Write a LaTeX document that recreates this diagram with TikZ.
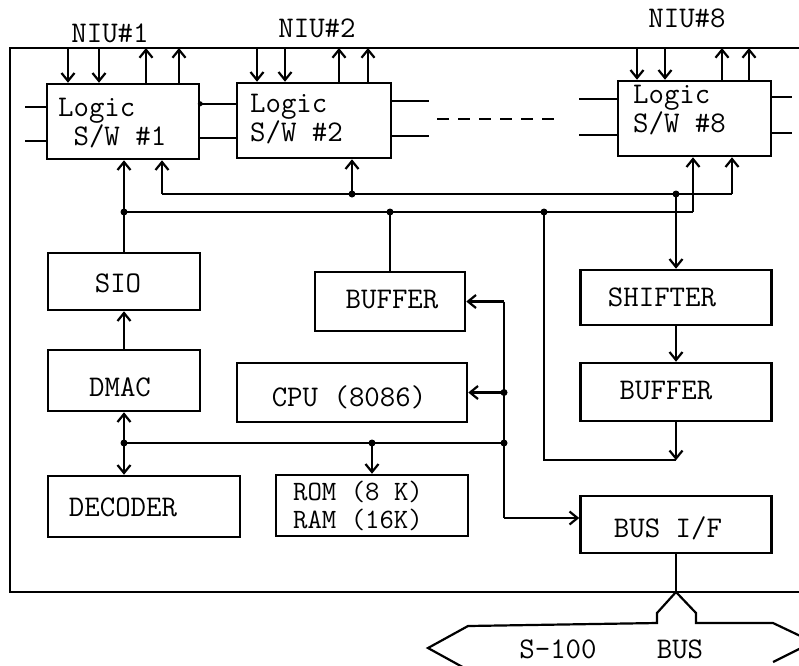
\documentclass[tikz,border=0pt]{standalone}
\usepackage{fontspec}
\usetikzlibrary{arrows.meta,calc}
\begin{document}
\begin{tikzpicture}[x=1pt,y=-1pt,
  line width=2.2pt,
  box/.style={draw, line width=2.5pt, rectangle, inner sep=0pt},
  arr/.style={-{Straight Barb[length=8pt,width=13pt]}},
  darr/.style={{Straight Barb[length=8pt,width=13pt]}-{Straight Barb[length=8pt,width=13pt]}},
  lbl/.style={font=\ttfamily\fontsize{30}{21}\selectfont, inner sep=0pt, align=left},
  dashline/.style={dash pattern=on 12pt off 9pt}
]
\useasboundingbox (0,0) rectangle (799,665);
\clip (0,0) rectangle (799,665);

% outer frame
\coordinate (ftl) at (10,48);
\coordinate (fbl) at (10,592);
\draw[line width=2.4pt] (815,48) -- (ftl) -- (fbl) -- (815,592);

% boxes
\node[box, minimum width=152, minimum height=75] (sw1) at (123,121.5) {};
\node[box, minimum width=154, minimum height=75] (sw2) at (314,120.5) {};
\node[box, minimum width=153, minimum height=75] (sw8) at (694.5,118.5) {};
\node[box, minimum width=152, minimum height=57] (sio) at (124,281.5) {};
\node[box, minimum width=152, minimum height=61] (dmac) at (124,380.5) {};
\node[box, minimum width=192, minimum height=61] (decoder) at (144,506.5) {};
\node[box, minimum width=150, minimum height=59] (buf1) at (390,301.5) {};
\node[box, minimum width=230, minimum height=59] (cpu) at (352,392.5) {};
\node[box, minimum width=192, minimum height=61] (rom) at (372,505.5) {};
\node[box, minimum width=191, minimum height=55] (shifter) at (676,297.5) {};
\node[box, minimum width=191, minimum height=58] (buf2) at (676,392) {};
\node[box, minimum width=191, minimum height=57] (busif) at (676,524.5) {};

% texts
\node[lbl, anchor=west] (tsw1) at (57,123) {Logic\\~S/W \#1};
\node[lbl, anchor=west] (tsw2) at (249,119) {Logic\\S/W \#2};
\node[lbl, anchor=west] (tsw8) at (632,110) {Logic\\S/W \#8};
\node[lbl] (tsio) at (118,283) {SIO};
\node[lbl] (tdmac) at (120,387) {DMAC};
\node[lbl] (tdec) at (123,507) {DECODER};
\node[lbl] (tbuf1) at (392,300) {BUFFER};
\node[lbl] (tcpu) at (349,397) {CPU (8086)};
\node[lbl, anchor=west, font=\ttfamily\fontsize{28}{28}\selectfont] (trom) at (292,506) {ROM (8 K)\\RAM (16K)};
\node[lbl] (tshift) at (662,297) {SHIFTER};
\node[lbl] (tbuf2) at (666,391) {BUFFER};
\node[lbl] (tbusif) at (668,528) {BUS I/F};
\node[lbl] (niu1) at (110,33) {NIU\#1};
\node[lbl] (niu2) at (317,28) {NIU\#2};
\node[lbl] (niu8) at (687,18) {NIU\#8};

% NIU arrows
\foreach \x in {68,99} {\path (\x,48) coordinate (t); \draw[arr] (t) -- (t |- sw1.north);}
\foreach \x in {146,179} {\path (\x,48) coordinate (t); \draw[arr] (t |- sw1.north) -- (t);}
\foreach \x in {257,285} {\path (\x,48) coordinate (t); \draw[arr] (t) -- (t |- sw2.north);}
\foreach \x in {339,368} {\path (\x,48) coordinate (t); \draw[arr] (t |- sw2.north) -- (t);}
\foreach \x in {637,665} {\path (\x,48) coordinate (t); \draw[arr] (t) -- (t |- sw8.north);}
\foreach \x in {722,749} {\path (\x,48) coordinate (t); \draw[arr] (t |- sw8.north) -- (t);}

% side links of the logic switches
\foreach \y in {107,141} {\path (25,\y) coordinate (t); \draw (t) -- (t -| sw1.west);}
\draw ($(sw1.north east)+(0,21)$) -- ($(sw2.north west)+(0,22)$);
\draw ($(sw1.north east)+(0,55)$) -- ($(sw2.north west)+(0,56)$);
\fill ($(sw1.north east)+(0,21)$) circle (2.5);
\draw ($(sw2.north east)+(0,19)$) -- ++(37,0);
\draw ($(sw2.north east)+(0,54)$) -- ++(37,0);
\coordinate (ds1) at (437,119);
\coordinate (ds2) at (558,119);
\draw[dashline] (ds1) -- (ds2);
\draw ($(sw8.north west)+(0,19)$) -- ++(-38,0);
\draw ($(sw8.north west)+(0,55)$) -- ++(-38,0);
\draw ($(sw8.north east)+(0,17)$) -- ++(20,0);
\draw ($(sw8.north east)+(0,53)$) -- ++(20,0);

% upper bus
\coordinate (u1) at (162,194);
\coordinate (u2) at (352,194);
\coordinate (u3) at (shifter.north |- u1);
\coordinate (u4) at (732,194);
\draw (u1) -- (u4);
\draw[arr] (u1) -- (u1 |- sw1.south);
\draw[arr] (u2) -- (u2 |- sw2.south);
\draw[arr] (u4) -- (u4 |- sw8.south);
\draw[arr] (u3) -- (shifter.north);
\fill (u2) circle (3.5);
\fill (u3) circle (3.5);

% lower bus
\coordinate (l1) at (sio.north |- 0,212);
\coordinate (l2) at (buf1.north |- l1);
\coordinate (l3) at (544,212);
\coordinate (l4) at (693,212);
\draw (l1) -- (l4);
\draw[arr] (sio.north) -- (sio.north |- sw1.south);
\draw[arr] (l4) -- (l4 |- sw8.south);
\draw (buf1.north) -- (l2);
\fill (l1) circle (3.5);
\fill (l2) circle (3.5);
\fill (l3) circle (3.5);

% shifter / buffer path
\draw[arr] (shifter.south) -- (buf2.north);
\coordinate (m1) at ($(buf2.south)+(0,38)$);
\draw[arr] (buf2.south) -- (m1);
\draw (m1) -- (m1 -| l3) -- (l3);

% left column
\draw[arr] (dmac.north) -- (sio.south);
\coordinate (b1) at (124,443);
\coordinate (b2) at (372,443);
\coordinate (b3) at (504,443);
\draw[darr] (b1 |- dmac.south) -- (b1 |- decoder.north);
\draw (b1) -- (b3);
\draw[arr] (b2) -- (b2 |- rom.north);
\fill (b1) circle (3.5);
\fill (b2) circle (3.5);
\fill (b3) circle (3.5);

% vertical bus at x=504
\coordinate (v1) at (b3 |- buf1.east);
\coordinate (v2) at (504,518);
\coordinate (vc) at (b3 |- cpu.east);
\draw[arr] (v1) -- (buf1.east);
\draw (v1) -- (v2);
\draw[arr] (v2) -- (v2 -| busif.west);
\draw[arr] (vc) -- (cpu.east);
\fill (vc) circle (3.5);

% S-100 bus
\coordinate (yb) at (busif.south |- fbl);
\draw (busif.south) -- (yb);
\draw (yb) -- ++(-19,21) -- ++(0,10) -- (468,626) -- (428,648) -- (468,670);
\draw (yb) -- ++(20,21) -- ++(0,10) -- (773,623) -- (813,642) -- (773,662);
\node[lbl] (s100) at (558,649) {S-100};
\node[lbl] (sbus) at (680,649) {BUS};
\end{tikzpicture}
\end{document}
